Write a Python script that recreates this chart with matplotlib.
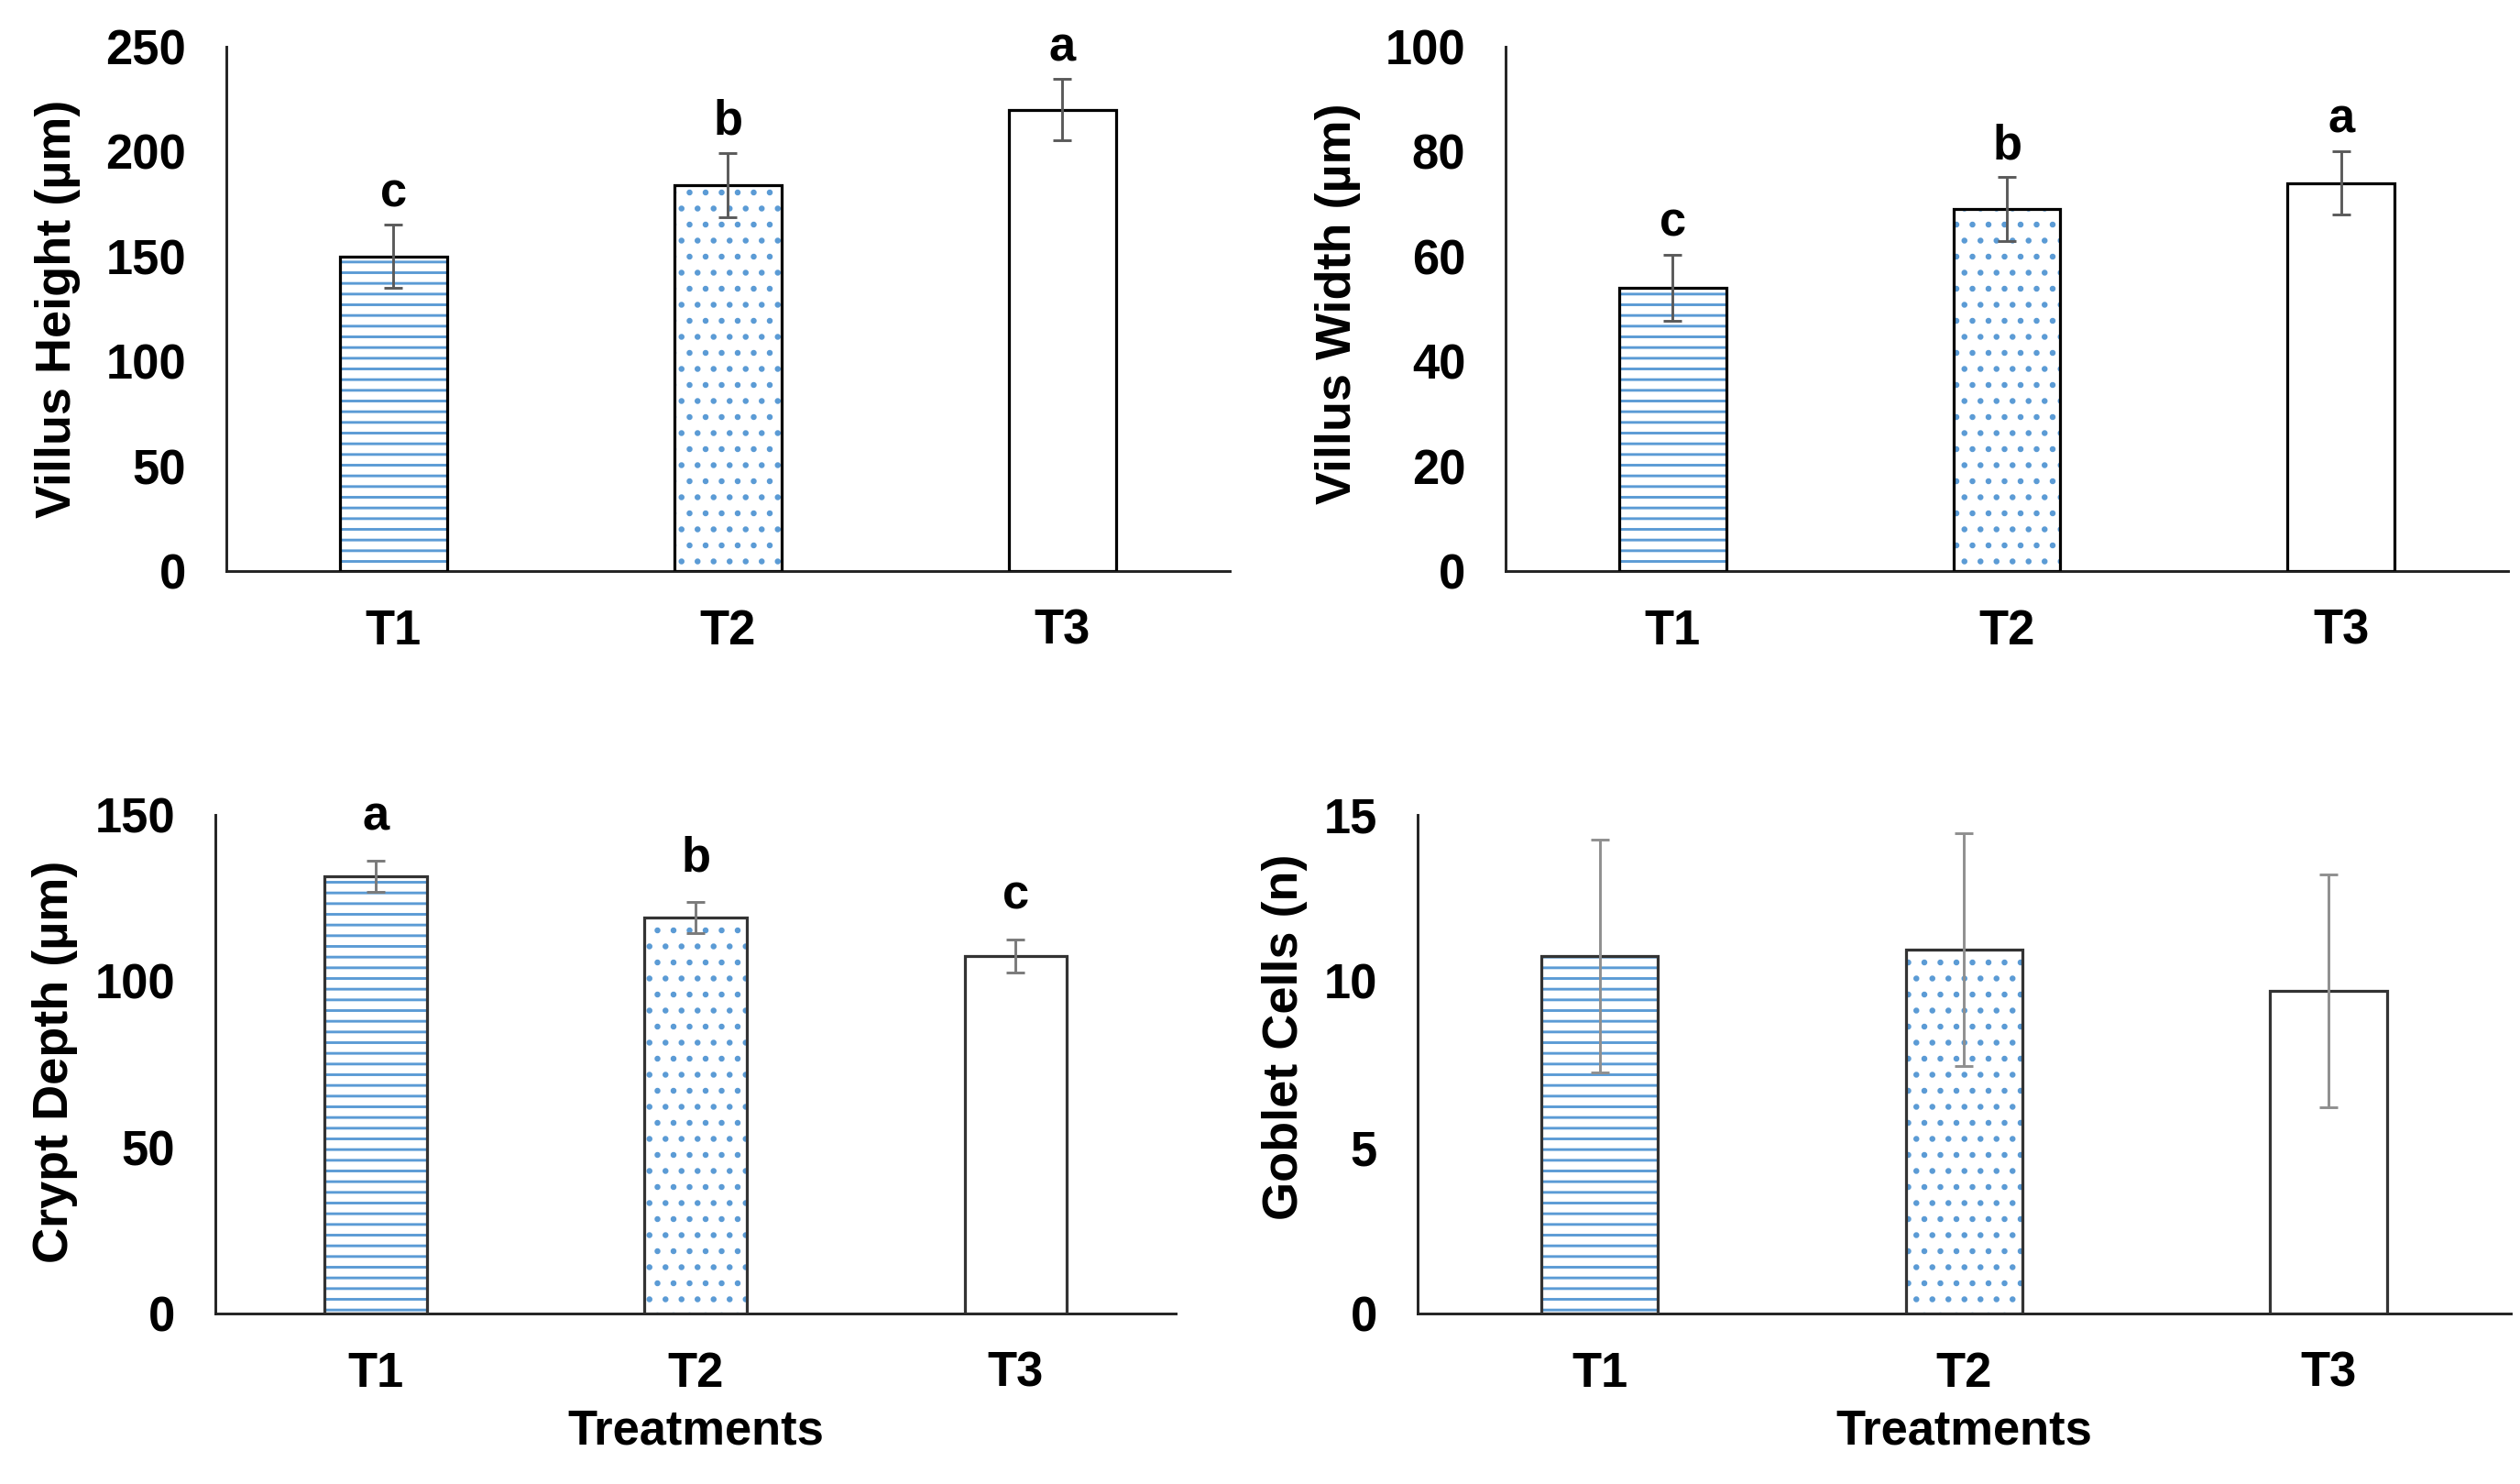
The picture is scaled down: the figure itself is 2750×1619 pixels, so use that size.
import numpy as np
import matplotlib
matplotlib.use('Agg')
import matplotlib.pyplot as plt

plt.rcParams['font.family'] = ['Liberation Sans', 'DejaVu Sans']
plt.rcParams['font.weight'] = 'bold'
plt.rcParams['hatch.linewidth'] = 1.0

# data
treatments = ['T1', 'T2', 'T3']

villus_height = [150, 184, 220]
villus_height_sd = [15, 15.5, 14.5]
villus_height_letters = ['c', 'b', 'a']

villus_width = [54, 69, 74]
villus_width_sd = [6.3, 6.1, 6.0]
villus_width_letters = ['c', 'b', 'a']

crypt_depth = [131.5, 119, 107.5]
crypt_depth_sd = [4.6, 4.7, 4.9]
crypt_depth_letters = ['a', 'b', 'c']

goblet_cells = [10.75, 10.95, 9.7]
goblet_cells_sd = [3.5, 3.5, 3.5]

blue = '#5b9bd5'
hatches = ['---', '..', '']
fs = 18
dpi = 210

fig = plt.figure(figsize=(2750 / dpi, 1619 / dpi), dpi=dpi)

panels = [
    # axes rect, values, sd, letters, ylim, ticks, ylabel, ylabel x, ylabel y, letter offset, err colour, xlabel
    ([0.0898, 0.6152, 0.3982, 0.3533], villus_height, villus_height_sd, villus_height_letters,
     250, np.arange(0, 251, 50), 'Villus Height (µm)', -0.145, 0.50, 7, '#5a5a5a', False),
    ([0.5975, 0.6152, 0.3978, 0.3533], villus_width, villus_width_sd, villus_width_letters,
     100, np.arange(0, 101, 20), 'Villus Width (µm)', -0.145, 0.51, 7, '#5a5a5a', False),
    ([0.0855, 0.1149, 0.3811, 0.3360], crypt_depth, crypt_depth_sd, crypt_depth_letters,
     150, np.arange(0, 151, 50), 'Crypt Depth (µm)', -0.143, 0.505, 11.5, '#7a7a7a', True),
    ([0.5625, 0.1149, 0.4338, 0.3360], goblet_cells, goblet_cells_sd, None,
     15, np.arange(0, 16, 5), 'Goblet Cells (n)', -0.1005, 0.555, 8, '#8f8f8f', True),
]

x = np.arange(len(treatments))
bw = 0.32

for rect, vals, sd, letters, ymax, ticks, ylab, lx, ly, off, ecol, show_x in panels:
    ax = fig.add_axes(rect)
    edge = 'black' if not show_x else '#333333'
    for i in range(len(treatments)):
        if hatches[i]:
            ax.bar(x[i], vals[i], bw, color='white', edgecolor=blue, hatch=hatches[i], linewidth=0, zorder=2)
    ax.bar(x, vals, bw, fill=False, edgecolor=edge, linewidth=1.1, zorder=3)
    ax.errorbar(x, vals, yerr=sd, fmt='none', ecolor=ecol, elinewidth=1.0, capsize=3.4, capthick=1.0, zorder=4)
    if letters is not None:
        for i in range(len(treatments)):
            ax.annotate(letters[i], (x[i], vals[i] + sd[i]), xytext=(0, off), textcoords='offset points',
                        ha='center', va='baseline', fontsize=fs, fontweight='bold')
    ax.set_xlim(-0.5, len(treatments) - 0.5)
    ax.set_ylim(0, ymax)
    ax.set_yticks(ticks)
    ax.set_xticks(x)
    ax.set_xticklabels(treatments)
    ax.tick_params(axis='both', length=0, labelsize=fs)
    ax.tick_params(axis='y', pad=15)
    ax.tick_params(axis='x', pad=14)
    for s in ['top', 'right']:
        ax.spines[s].set_visible(False)
    for s in ['left', 'bottom']:
        ax.spines[s].set_linewidth(1.0)
        ax.spines[s].set_color('#222222')
    ax.set_ylabel(ylab, fontsize=18.5, fontweight='bold')
    ax.yaxis.set_label_coords(lx, ly)
    if show_x:
        ax.set_xlabel('Treatments', fontsize=fs, fontweight='bold')
        ax.xaxis.set_label_coords(0.5, -0.19)

fig.savefig('out.png', dpi=dpi)
